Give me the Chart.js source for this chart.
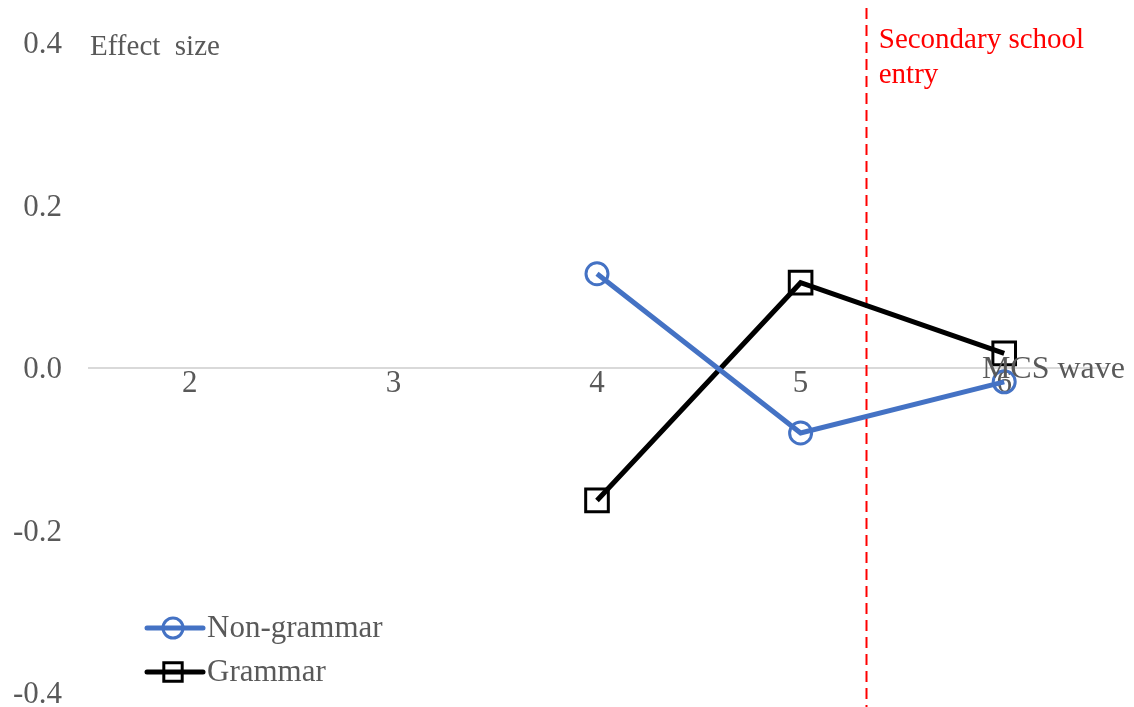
<!DOCTYPE html>
<html>
<head>
<meta charset="utf-8">
<script src="https://cdn.jsdelivr.net/npm/chart.js@4/dist/chart.umd.min.js"></script>
<style>
  html, body { margin: 0; padding: 0; background: #fff; }
  #box { width: 1134px; height: 707px; }
</style>
</head>
<body>
<div id="box"><canvas id="chart"></canvas></div>
<script>
const waves = ["2", "3", "4", "5", "6"];
const nonGrammar = [null, null, 0.116, -0.080, -0.017];
const grammar = [null, null, -0.163, 0.105, 0.018];
const yTicks = [-0.4, -0.2, 0, 0.2, 0.4];
const entryWave = 5.32; // secondary school entry sits between wave 5 and 6

const C = {
  blue: "#4472C4",
  black: "#000000",
  red: "#FF0000",
  text: "#595959",
  zero: "#D9D9D9"
};
const FONT = "'Liberation Serif', 'Times New Roman', serif";

const extras = {
  id: "extras",
  beforeDatasetsDraw(chart) {
    const ctx = chart.ctx;
    const xs = chart.scales.x;
    const idx = waves.indexOf("5") + (entryWave - 5);
    const x = Math.round(xs.getPixelForValue(idx)) + 0.5;
    ctx.save();
    ctx.strokeStyle = C.red;
    ctx.lineWidth = 2;
    ctx.setLineDash([11, 6]);
    ctx.beginPath();
    ctx.moveTo(x, 8);
    ctx.lineTo(x, chart.height);
    ctx.stroke();
    ctx.restore();
  },
  afterDraw(chart) {
    const ctx = chart.ctx;
    const xs = chart.scales.x;
    const ys = chart.scales.y;
    const idx = waves.indexOf("5") + (entryWave - 5);
    const x = xs.getPixelForValue(idx);
    ctx.save();
    ctx.textBaseline = "middle";

    ctx.fillStyle = C.red;
    ctx.font = "29px " + FONT;
    ctx.textAlign = "left";
    ctx.fillText("Secondary school", x + 13, 40);
    ctx.fillText("entry", x + 13, 75);

    ctx.fillStyle = C.text;
    ctx.font = "29px " + FONT;
    ctx.fillText("Effect  size", chart.chartArea.left + 2, 47);
    ctx.font = "32px " + FONT;
    ctx.textAlign = "right";
    ctx.fillText("MCS wave", 1125, ys.getPixelForValue(0) + 2);

    // legend, bottom left inside the plot
    const rows = [628, 672];
    ctx.textAlign = "left";
    chart.data.datasets.forEach((ds, i) => {
      const y = rows[i];
      ctx.strokeStyle = ds.borderColor;
      ctx.lineWidth = 5;
      ctx.setLineDash([]);
      ctx.lineCap = "round";
      ctx.beginPath();
      ctx.moveTo(147, y);
      ctx.lineTo(203, y);
      ctx.stroke();
      ctx.lineWidth = 3;
      ctx.fillStyle = "rgba(0,0,0,0)";
      Chart.helpers.drawPoint(ctx, { pointStyle: ds.pointStyle, radius: ds.pointStyle === "rect" ? 13 : 10, rotation: 0, borderWidth: 3 }, 173, y);
      ctx.fillStyle = C.text;
      ctx.font = "31px " + FONT;
      ctx.fillText(ds.label, 207, y + 1);
    });
    ctx.restore();
  }
};

new Chart(document.getElementById("chart"), {
  type: "line",
  data: {
    labels: waves,
    datasets: [
      {
        label: "Non-grammar",
        data: nonGrammar,
        borderColor: C.blue,
        backgroundColor: "rgba(0,0,0,0)",
        borderWidth: 5,
        pointStyle: "circle",
        pointRadius: 11,
        pointBorderWidth: 3,
        pointBackgroundColor: "rgba(0,0,0,0)",
        pointBorderColor: C.blue,
        tension: 0
      },
      {
        label: "Grammar",
        data: grammar,
        borderColor: C.black,
        backgroundColor: "rgba(0,0,0,0)",
        borderWidth: 5,
        pointStyle: "rect",
        pointRadius: 16,
        pointBorderWidth: 3,
        pointBackgroundColor: "rgba(0,0,0,0)",
        pointBorderColor: C.black,
        tension: 0
      }
    ]
  },
  options: {
    responsive: true,
    maintainAspectRatio: false,
    animation: false,
    layout: { autoPadding: false, padding: { top: 43, bottom: 14, left: 0, right: 28 } },
    plugins: { legend: { display: false }, tooltip: { enabled: false } },
    scales: {
      x: {
        type: "category",
        position: { y: 0 },
        offset: true,
        afterFit: s => { s.height = 0; },
        grid: { display: false, drawTicks: false },
        border: { display: false },
        ticks: { color: C.text, padding: 0, font: { family: FONT, size: 31, lineHeight: 1.0 } }
      },
      y: {
        min: -0.4,
        max: 0.4,
        afterBuildTicks: s => { s.ticks = yTicks.map(v => ({ value: v })); },
        afterFit: s => { s.width = 88; s.paddingTop = 0; s.paddingBottom = 0; },
        grid: {
          drawTicks: false,
          lineWidth: 2,
          color: c => (c.tick && c.tick.value === 0 ? C.zero : "rgba(0,0,0,0)")
        },
        border: { display: false },
        ticks: {
          color: C.text,
          padding: 26,
          labelOffset: 2,
          font: { family: FONT, size: 31 },
          callback: v => Number(v).toFixed(1)
        }
      }
    }
  },
  plugins: [extras]
});
</script>
</body>
</html>
